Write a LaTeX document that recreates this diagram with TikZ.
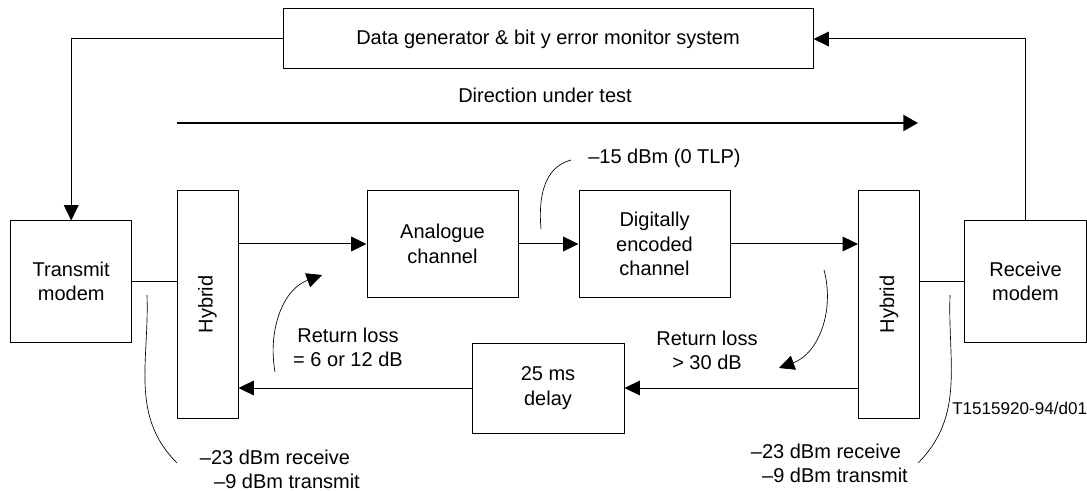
\documentclass[tikz,border=0pt]{standalone}
\usepackage{fontspec}
\setmainfont{Liberation Sans}
\usepackage{tikz}
\usetikzlibrary{arrows.meta,positioning,calc}
\tikzset{
  box/.style={draw, align=center, inner sep=0pt, line width=0.75pt,
              font=\fontsize{15}{18.4}\selectfont},
  hyb/.style={box, rotate=90, minimum width=170.25pt, minimum height=45.75pt},
  chan/.style={box, minimum width=113.25pt, minimum height=79.5pt},
  flow/.style={-{Triangle[length=11.5pt,width=11pt]}, line width=0.75pt},
  wire/.style={line width=0.75pt},
  note/.style={line width=0.5pt},
  lbl/.style={font=\fontsize{15}{18}\selectfont, align=center, inner sep=0pt},
}
\begin{document}
\begin{tikzpicture}[x=0.75pt, y=0.75pt]
  \useasboundingbox (0,0) rectangle (1087,-491);
  % blocks
  \node[box, minimum width=397.5pt, minimum height=45pt] (gen) at (548,-39)
    {Data generator \& bit y error monitor system};
  \node[box, minimum width=90.75pt, minimum height=90.75pt] (tx) at (71.2,-281.5)
    {Transmit\\modem};
  \node[hyb] (hyb1) at (207.5,-304.5) {Hybrid};
  \node[chan] (ana) at (442.5,-244) {Analogue\\channel};
  \node[chan, right=45pt of ana] (dig) {Digitally\\encoded\\channel};
  \node[hyb] (hyb2) at (889,-304.5) {Hybrid};
  \node[box, minimum width=91.5pt, minimum height=90.75pt] (rx) at (1025.5,-281.5)
    {Receive\\modem};
  \node[box, minimum width=114pt, minimum height=67.5pt] (delay) at (548,-388)
    {25 ms\\delay};
  % loop to the generator
  \draw[flow] (gen.west) -| (tx.north);
  \draw[flow] (rx.north) |- (gen.east);
  % direction under test
  \coordinate (d0) at (177,-123);
  \coordinate (d1) at (918,-123);
  \draw[-{Triangle[length=11pt,width=12pt]}, line width=1.6pt] (d0) -- (d1);
  \node[lbl] (dir) at (545,-95) {Direction under test};
  % signal path (hybrid nodes are rotated: north = left side, south = right side)
  \draw[wire] (tx.east) -- (tx.east -| hyb1.north);
  \draw[flow] (hyb1.south |- ana.west) -- (ana.west);
  \draw[flow] (ana.east) -- (dig.west);
  \draw[flow] (dig.east) -- (dig.east -| hyb2.north);
  \draw[wire] (hyb2.south |- rx.west) -- (rx.west);
  \draw[flow] (hyb2.north |- delay.east) -- (delay.east);
  \draw[flow] (delay.west) -- (delay.west -| hyb1.south);
  % levels and return losses
  \node[lbl, anchor=west] (lvl) at (588,-158) {–15 dBm (0 TLP)};
  \coordinate (l0) at (541,-229);
  \coordinate (l1) at (571,-160);
  \draw[note] (l0) to[out=95,in=195] (l1);
  \node[lbl] (rla) at (348,-347) {Return loss\\= 6 or 12 dB};
  \coordinate (a0) at (275,-372);
  \coordinate (a1) at (322,-275);
  \draw[note, flow, line width=0.5pt] (a0) to[out=100,in=200] (a1);
  \node[lbl] (rlb) at (707,-350) {Return loss\\> 30 dB};
  \coordinate (b0) at (824,-270);
  \coordinate (b1) at (779,-368);
  \draw[note, flow, line width=0.5pt] (b0) to[out=-75,in=20] (b1);
  \node[lbl] (lvla) at (275,-469) {–23 dBm receive\\\hspace*{1.2em}–9 dBm transmit};
  \coordinate (c0) at (147,-295);
  \coordinate (c1) at (177,-463);
  \draw[note] (c0) to[out=-88,in=135] (c1);
  \node[lbl] (lvlb) at (826,-463) {–23 dBm receive\\\hspace*{0.9em}–9 dBm transmit};
  \coordinate (e0) at (950,-295);
  \coordinate (e1) at (918,-463);
  \draw[note] (e0) to[out=-92,in=45] (e1);
  \node[lbl, anchor=west, font=\fontsize{12.8}{15}\selectfont] (ref) at (952,-408)
    {T1515920-94/d01};
\end{tikzpicture}
\end{document}
